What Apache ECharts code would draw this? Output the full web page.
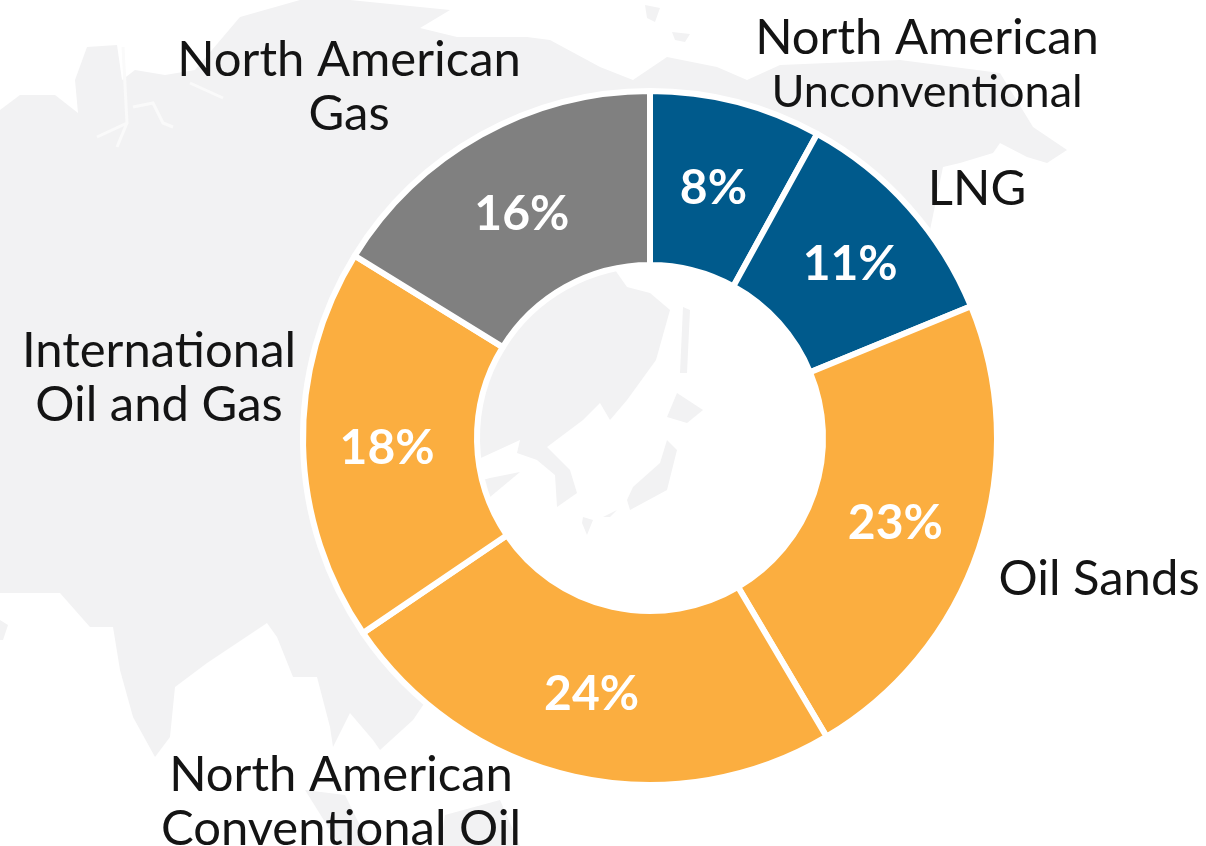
<!DOCTYPE html>
<html><head><meta charset="utf-8">
<style>html,body{margin:0;padding:0;background:#fff}#c{width:1206px;height:846px}</style>
<script src="https://cdn.jsdelivr.net/npm/echarts@6/dist/echarts.min.js"></script>
</head><body><div id="c"></div>
<script>
const categories = ['North American\nUnconventional','LNG','Oil Sands','North American\nConventional Oil','International\nOil and Gas','North American\nGas'];
const shares = [8,10.8,22.7,24,18.3,16.2];
const groupColors = ['#005a8c','#005a8c','#fbae40','#fbae40','#fbae40','#808080'];
const nameAnchors = [[927,65],[977,189],[1099,579],[341,802],[159,378],[349,87]];
const shareNudges = [[-2,5],[4,2],[-4,2],[-1,0],[0,5],[0,6]];

// faint decorative backdrop map, not data
const mapFill = '#f2f2f3';
const mapLand = [
 [[0,110],[20,95],[55,95],[78,113],[75,80],[87,47],[117,45],[122,80],[135,70],[165,75],[195,70],[240,17],[300,0],[350,0],[450,10],[420,28],[457,37],[527,37],[550,40],[600,67],[633,80],[667,57],[717,67],[747,80],[780,65],[900,60],[1000,73],[1033,127],[1067,150],[1047,163],[1027,157],[1000,143],[993,153],[960,163],[943,167],[930,230],[860,290],[800,270],[720,240],[670,240],[640,250],[615,270],[627,287],[650,293],[670,310],[656,360],[627,400],[610,420],[600,403],[583,420],[547,447],[570,470],[577,493],[557,507],[555,475],[537,460],[517,453],[520,440],[483,457],[465,465],[465,485],[490,478],[520,472],[490,497],[465,500],[470,600],[440,680],[413,720],[380,750],[373,740],[350,713],[333,747],[330,727],[317,677],[293,677],[277,637],[267,623],[207,663],[175,687],[170,737],[155,757],[133,717],[120,670],[113,627],[90,627],[60,593],[0,593]],
 [[683,307],[690,310],[687,373],[680,373]],
 [[677,393],[703,410],[687,423],[667,417]],
 [[667,440],[677,450],[667,490],[630,510],[627,500],[633,487],[660,463]],
 [[583,517],[593,520],[587,535],[582,523]],
 [[603,517],[617,510],[610,517]],
 [[305,790],[345,795],[370,846],[340,846]],
 [[445,815],[500,800],[520,846],[440,846]],
 [[0,620],[8,625],[3,640],[0,640]],
 [[645,5],[660,8],[655,22],[647,18]],
 [[672,32],[690,34],[685,42],[675,40]]
];
const mapChannels = [
 [[123,47],[127,123],[97,137]],
 [[127,123],[117,147]],
 [[133,107],[153,103],[163,123],[173,127]],
 [[190,83],[223,98]]
];

const chart = echarts.init(document.getElementById('c'), null, {renderer:'canvas'});
const face = 'Lato, "Open Sans", sans-serif';
const ringBase = {type:'pie', center:[650,438], radius:[173,347], startAngle:90, clockwise:true, avoidLabelOverlap:false, silent:true, animation:false, labelLine:{show:false}};
chart.setOption({
 animation:false,
 backgroundColor:'#fff',
 graphic:{elements:[
  ...mapLand.map(p=>({type:'polygon',z:-2,silent:true,shape:{points:p},style:{fill:mapFill}})),
  ...mapChannels.map(p=>({type:'polyline',z:-1,silent:true,shape:{points:p},style:{fill:'none',stroke:'#fafafa',lineWidth:3}}))
 ]},
 series:[
  {...ringBase, name:'Share', z:2,
   itemStyle:{borderColor:'#fff',borderWidth:6},
   label:{show:true,position:'inside',formatter:p=>Math.round(p.value)+'%',color:'#fff',fontFamily:face,fontWeight:'bold',fontSize:48},
   labelLayout:p=>({dx:shareNudges[p.dataIndex][0],dy:shareNudges[p.dataIndex][1]}),
   data:shares.map((v,i)=>({name:categories[i],value:v,itemStyle:{color:groupColors[i]}}))
  },
  {...ringBase, name:'Names', z:3,
   itemStyle:{color:'rgba(0,0,0,0)',borderWidth:0},
   label:{show:true,position:'outside',
     formatter:p=>p.name.replace('Unconventional','{n|Unconventional}'),
     rich:{n:{fontFamily:face,fontSize:45,lineHeight:54,color:'#141414'}},
     color:'#141414',fontFamily:face,fontSize:49,lineHeight:54,align:'center'},
   labelLayout:p=>({x:nameAnchors[p.dataIndex][0],y:nameAnchors[p.dataIndex][1],align:'center',verticalAlign:'middle',hideOverlap:false}),
   data:shares.map((v,i)=>({name:categories[i],value:v}))
  }
 ]
});
</script></body></html>
